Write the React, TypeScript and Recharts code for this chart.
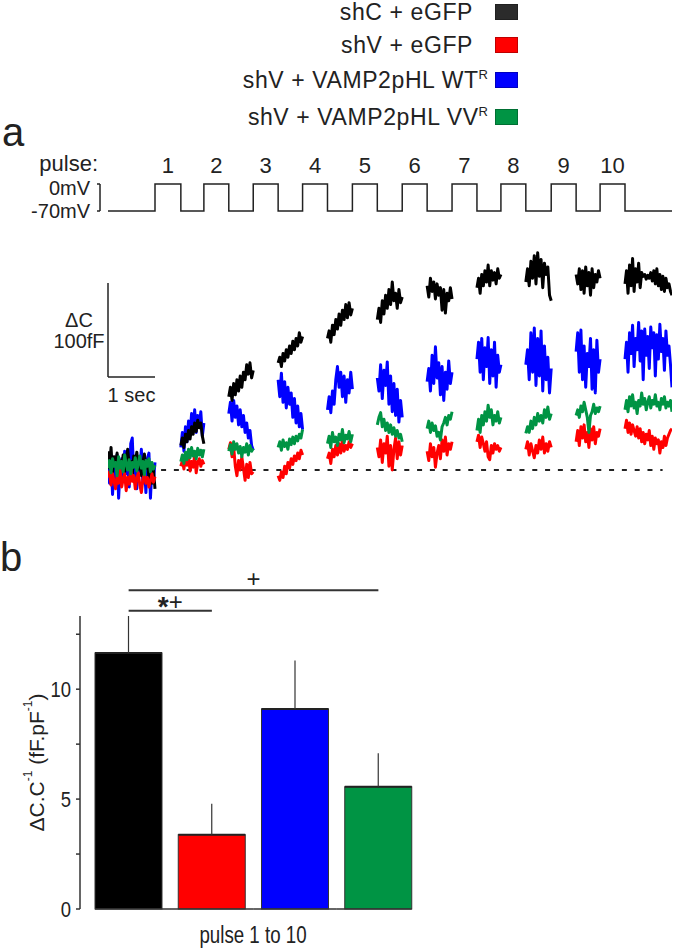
import React from 'react';
import {
  ComposedChart,
  Line,
  XAxis,
  YAxis,
  ReferenceLine,
  Label,
  BarChart,
  Bar,
  ErrorBar,
} from 'recharts';

const sans = '"Liberation Sans", Arial, Helvetica, sans-serif';
const ink = '#222';

// groups
const groupNames = ['shC + eGFP', 'shV + eGFP', 'shV + VAMP2pHL WT', 'shV + VAMP2pHL VV'];
const groupSup = ['', '', 'R', 'R'];
const groupKeys = ['shC', 'shV', 'WT', 'VV'];
const groupColors = ['#000000', '#ff0000', '#0000ff', '#009444'];
const swatchColors = ['#2b2b2b', '#ff0000', '#0000ff', '#009444'];

// voltage protocol, seconds
const pulseOn = [1.0, 2.04, 3.09, 4.14, 5.2, 6.26, 7.32, 8.36, 9.43, 10.47];
const pulseOff = [1.55, 2.57, 3.62, 4.67, 5.73, 6.79, 7.85, 8.89, 9.96, 11.0];
const sweepEnd = 12;
const holdMv = -70;
const stepMv = 0;

// capacitance traces (fF), one array per window between pulses
const traceShC = [
  [20, 2, 24, -3, 14, 6, 18, -4, 10, 3, 16, -2, 12, 22, 4, 9, -5, 15, 7, 19, 1, 12, -6, 8, 17, 2, 10, -8, 4, -14, 0, -20],
  [26, 34, 24, 38, 30, 42, 33, 46, 38, 50, 41, 53, 45, 50, 36, 28],
  [78, 88, 74, 92, 80, 96, 84, 100, 88, 104, 96, 112, 102, 114, 98, 106],
  [114, 120, 110, 124, 116, 128, 120, 132, 124, 137, 128, 140, 132, 146, 136, 142],
  [140, 148, 136, 154, 144, 160, 150, 166, 154, 170, 160, 176, 162, 178, 165, 172],
  [160, 172, 157, 180, 166, 186, 172, 192, 176, 200, 180, 188, 172, 192, 178, 184],
  [196, 184, 204, 190, 200, 182, 198, 186, 194, 170, 192, 167, 188, 180, 194, 182],
  [194, 204, 188, 208, 196, 212, 200, 218, 196, 212, 202, 210, 198, 214, 204, 208],
  [200, 214, 196, 222, 204, 228, 198, 231, 206, 224, 194, 220, 208, 216, 186, 180],
  [208, 198, 214, 192, 212, 188, 216, 196, 210, 186, 214, 194, 208, 200, 212, 204],
  [198, 212, 188, 218, 196, 225, 190, 214, 200, 220, 194, 210, 206, 208, 203, 207, 204, 210, 201, 212, 198, 214, 196, 208, 192, 206, 190, 204, 194, 198, 190, 186],
];
const traceShV = [
  [-8, -2, -16, -4, -12, -20, -6, -14, 0, -18, -10, -4, -22, -8, -15, 2, -12, -6, -20, -9, -3, -16, -24, -10, -5, -14, -8, -18, -11, -4, -13, -7],
  [4, 10, 1, 13, 5, 14, -1, 9, 3, 16, -3, 8, 12, 4, 10, 6],
  [22, 29, 14, 24, 4, -6, 10, 0, 14, 2, -11, 6, -8, 8, -4, -2],
  [-6, -11, -2, -8, 4, -4, 8, 2, 12, 6, 15, 10, 18, 12, 21, 16],
  [12, 18, 7, 22, 14, 26, 16, 28, 18, 32, 20, 26, 22, 30, 24, 28],
  [24, 14, 32, 8, 28, 18, 36, 4, 26, 0, 22, 34, 12, 30, 16, 26],
  [20, 10, 28, 14, 24, 3, 18, 26, 12, 32, 20, 35, 16, 28, 22, 30],
  [30, 37, 24, 35, 28, 20, 30, 14, 11, 26, 18, 28, 22, 26, 20, 24],
  [22, 30, 16, 28, 20, 13, 26, 18, 32, 22, 35, 18, 28, 20, 30, 24],
  [30, 42, 26, 46, 34, 48, 30, 40, 24, 44, 32, 46, 28, 40, 36, 44],
  [44, 53, 40, 50, 38, 48, 42, 36, 46, 34, 44, 30, 40, 28, 38, 32, 42, 26, 36, 22, 34, 28, 32, 18, 30, 24, 36, 26, 34, 38, 42, 44],
];
const traceWT = [
  [6, -14, 10, -26, 4, -8, 16, -30, 2, 12, -12, 20, -4, 8, -18, 28, 34, -6, 10, -20, 14, -2, 22, -14, 6, -24, 12, 18, -30, 4, -10, 8],
  [24, 40, 20, 46, 30, 52, 38, 60, 44, 64, 40, 58, 46, 62, 36, 50],
  [60, 72, 52, 74, 56, 68, 48, 64, 46, 58, 40, 50, 34, 42, 26, 21],
  [96, 78, 103, 72, 94, 66, 88, 70, 82, 56, 76, 50, 68, 46, 60, 43],
  [64, 78, 61, 84, 70, 96, 110, 88, 104, 78, 100, 72, 96, 82, 104, 86],
  [98, 84, 112, 76, 106, 90, 115, 70, 100, 62, 92, 58, 86, 51, 74, 56],
  [94, 108, 84, 122, 92, 131, 98, 114, 80, 110, 74, 104, 86, 116, 92, 104],
  [118, 136, 104, 140, 96, 130, 110, 141, 92, 128, 100, 136, 88, 122, 104, 112],
  [112, 128, 96, 146, 104, 151, 90, 140, 100, 148, 84, 132, 96, 120, 82, 108],
  [126, 146, 104, 149, 96, 132, 88, 124, 110, 140, 86, 128, 82, 138, 104, 118],
  [118, 136, 104, 146, 124, 154, 110, 140, 128, 157, 116, 148, 96, 150, 122, 142, 108, 152, 130, 146, 100, 144, 118, 155, 126, 140, 106, 148, 122, 132, 112, 88],
];
const traceVV = [
  [2, 10, -3, 12, 4, 8, -6, 14, 2, 9, -2, 16, 6, 0, 11, -4, 8, 3, 13, -1, 7, 15, 2, 9, -5, 10, 4, 12, -2, 8, 1, 5],
  [9, 16, 7, 19, 11, 22, 13, 24, 15, 20, 12, 23, 16, 21, 14, 22],
  [20, 27, 17, 30, 22, 28, 18, 25, 14, 24, 19, 28, 16, 26, 20, 23],
  [24, 30, 21, 32, 25, 29, 22, 33, 27, 35, 28, 36, 31, 38, 34, 43],
  [28, 36, 24, 40, 30, 35, 26, 38, 32, 43, 29, 37, 33, 41, 30, 38],
  [48, 56, 61, 46, 54, 42, 50, 40, 48, 38, 45, 36, 42, 34, 38, 30],
  [44, 52, 40, 50, 42, 47, 36, 40, 32, 46, 50, 56, 48, 58, 54, 62],
  [42, 54, 40, 58, 48, 62, 52, 69, 56, 64, 48, 58, 52, 62, 50, 56],
  [39, 46, 40, 52, 44, 56, 48, 60, 52, 58, 50, 64, 56, 67, 54, 60],
  [58, 64, 56, 68, 62, 72, 64, 56, 40, 58, 62, 70, 60, 66, 62, 68],
  [64, 74, 62, 78, 68, 80, 66, 72, 60, 74, 68, 82, 70, 76, 64, 72, 78, 66, 74, 70, 80, 68, 72, 64, 76, 70, 78, 66, 72, 68, 74, 62],
];

// panel b: mean and SEM, fF/pF
const barMeans = [11.65, 3.38, 9.1, 5.56];
const barSem = [1.68, 1.41, 2.2, 1.53];

// ---- tables built from the arrays above ----
const traceSets: any = { shC: traceShC, shV: traceShV, WT: traceWT, VV: traceVV };

const traceRows: any[] = [];
traceShC.forEach((_, k) => {
  const start = k === 0 ? 0 : pulseOff[k - 1];
  const end = k < pulseOn.length ? pulseOn[k] : sweepEnd;
  const n = traceShC[k].length;
  for (let i = 0; i < n; i++) {
    const row: any = { t: start + ((end - start) * i) / (n - 1) };
    groupKeys.forEach((key) => (row[key] = traceSets[key][k][i]));
    traceRows.push(row);
  }
  const gap: any = { t: end + 0.005 };
  groupKeys.forEach((key) => (gap[key] = null));
  traceRows.push(gap);
});

const pulseRows: any[] = [{ t: 0, mV: holdMv }];
pulseOn.forEach((on, i) => {
  pulseRows.push(
    { t: on, mV: holdMv },
    { t: on, mV: stepMv },
    { t: pulseOff[i], mV: stepMv },
    { t: pulseOff[i], mV: holdMv }
  );
});
pulseRows.push({ t: sweepEnd, mV: holdMv });

const pulseCenters = pulseOn.map((on, i) => (on + pulseOff[i]) / 2);

const barRows = groupNames.map((g, i) => ({
  group: g,
  mean: barMeans[i],
  err: [0, barSem[i]],
  color: groupColors[i],
}));

// ---- small renderers ----
const PulseWord = (props: any) => {
  const vb = props.viewBox;
  return (
    <text x={vb.x - 10} y={vb.y + vb.height - 5} textAnchor="end" fontSize={22} fontFamily={sans} fill={ink}>
      pulse:
    </text>
  );
};

const VoltTick = (props: any) => {
  const { x, y, payload } = props;
  return (
    <text x={x} y={y} dy={payload.value === stepMv ? 4 : 0} textAnchor="end" dominantBaseline="central"
      fontSize={20} fontFamily={sans} fill={ink}>
      {`${payload.value}mV`}
    </text>
  );
};

const ScaleC = (props: any) => {
  const vb = props.viewBox;
  const cy = vb.y + vb.height / 2;
  return (
    <text textAnchor="middle" fontSize={20} fontFamily={sans} fill={ink}>
      <tspan x={vb.x - 29} y={cy - 3}>ΔC</tspan>
      <tspan x={vb.x - 29} y={cy + 18}>100fF</tspan>
    </text>
  );
};

const PlusLabel = (props: any) => {
  const vb = props.viewBox;
  return (
    <text x={vb.x + vb.width / 2} y={vb.y - 3} textAnchor="middle" fontSize={24} fontFamily={sans} fill={ink}>
      +
    </text>
  );
};

const StarPlusLabel = (props: any) => {
  const vb = props.viewBox;
  return (
    <text x={vb.x + vb.width / 2} y={vb.y - 1} textAnchor="middle" fontSize={24} fontFamily={sans} fill={ink}>
      <tspan fontWeight="bold" fontSize={28} dy={6}>*</tspan>
      <tspan dy={-6}>+</tspan>
    </text>
  );
};

// condensed look of panel b lettering
const NarrowTick = (props: any) => {
  const { x, y, payload } = props;
  if (payload.value % 5 !== 0) return null;
  return (
    <text
      transform={`translate(${x} ${y}) scale(0.84 1)`}
      textAnchor="end"
      dominantBaseline="central"
      fontSize={22}
      fontFamily={sans}
      fill={ink}
    >
      {payload.value}
    </text>
  );
};

const BarYLabel = (props: any) => {
  const vb = props.viewBox;
  const cx = 36;
  const cy = vb.y + vb.height / 2;
  return (
    <text
      x={cx}
      y={cy}
      transform={`rotate(-90 ${cx} ${cy})`}
      textAnchor="middle"
      dominantBaseline="central"
      fontSize={21}
      fontFamily={sans}
      fill={ink}
    >
      ΔC.C<tspan dy={-8} fontSize={12}>-1</tspan>
      <tspan dy={8}>{'  (fF.pF'}</tspan>
      <tspan dy={-8} fontSize={12}>-1</tspan>
      <tspan dy={8}>)</tspan>
    </text>
  );
};

const BarXLabel = (props: any) => {
  const vb = props.viewBox;
  const cx = vb.x + vb.width / 2 + 3;
  return (
    <text
      transform={`translate(${cx} ${vb.y + 34}) scale(0.78 1)`}
      textAnchor="middle"
      fontSize={24}
      fontFamily={sans}
      fill={ink}
    >
      pulse 1 to 10
    </text>
  );
};

const BarShape = (props: any) => {
  const { x, y, width, height, index, payload } = props;
  const bottom = y + height;
  const half = 8.2;
  const left = index === 0 ? x : x - half;
  const right = index === barRows.length - 1 ? x + width : x + width + half;
  return (
    <g>
      <rect x={x} y={y} width={width} height={height} fill={payload.color} stroke="#333" strokeWidth={1} />
      <line x1={x} x2={x + width} y1={y} y2={y} stroke={ink} strokeWidth={2} />
      <line x1={left} x2={right} y1={bottom} y2={bottom} stroke="#333" strokeWidth={1.5} />
    </g>
  );
};

// blue first, then black, red, green on top
const drawOrder = [2, 0, 1, 3];

const TracesPanel = () => (
  <ComposedChart
    width={675}
    height={520}
    data={traceRows}
    margin={{ top: 146.25, right: 3, bottom: 12.4, left: 0 }}
  >
    <XAxis
      type="number"
      dataKey="t"
      orientation="top"
      domain={[0, sweepEnd]}
      allowDataOverflow
      ticks={pulseCenters}
      interval={0}
      tickFormatter={(v: number, i: number) => String(i + 1)}
      axisLine={false}
      tickLine={false}
      tickSize={0}
      tickMargin={3}
      height={30}
      tick={{ fontSize: 22, fill: ink, fontFamily: sans }}
    >
      <Label content={PulseWord} />
    </XAxis>
    <YAxis
      yAxisId="v"
      width={108}
      domain={[-839, 20.1]}
      allowDataOverflow
      ticks={[holdMv, stepMv]}
      interval={0}
      axisLine={false}
      tickLine={false}
      tickSize={0}
      tickMargin={18}
      tick={VoltTick}
    />
    <YAxis yAxisId="c" orientation="right" hide domain={[-40, 312.5]} allowDataOverflow />

    {/* bracket next to the voltage labels */}
    <ReferenceLine yAxisId="v" ifOverflow="visible" stroke={ink} strokeWidth={1.5}
      segment={[{ x: -0.17, y: holdMv }, { x: -0.17, y: stepMv }]} />
    <ReferenceLine yAxisId="v" ifOverflow="visible" stroke={ink} strokeWidth={1.5}
      segment={[{ x: -0.234, y: stepMv }, { x: -0.17, y: stepMv }]} />
    <ReferenceLine yAxisId="v" ifOverflow="visible" stroke={ink} strokeWidth={1.5}
      segment={[{ x: -0.234, y: holdMv }, { x: -0.17, y: holdMv }]} />

    {/* scale bars: 100 fF, 1 s */}
    <ReferenceLine yAxisId="c" ifOverflow="visible" stroke={ink} strokeWidth={1.5}
      segment={[{ x: 0, y: 99 }, { x: 0, y: 199 }]}>
      <Label content={ScaleC} />
    </ReferenceLine>
    <ReferenceLine yAxisId="c" ifOverflow="visible" stroke={ink} strokeWidth={1.5}
      segment={[{ x: 0, y: 99 }, { x: 1, y: 99 }]}>
      <Label value="1 sec" position="bottom" offset={11} fontSize={20} fontFamily={sans} fill={ink} />
    </ReferenceLine>

    {/* baseline */}
    <ReferenceLine yAxisId="c" ifOverflow="visible" stroke={ink} strokeWidth={2} strokeDasharray="5 7.8"
      segment={[{ x: 0.04, y: 0 }, { x: 11.8, y: 0 }]} />

    {drawOrder.map((i) => (
      <Line
        key={groupKeys[i]}
        yAxisId="c"
        type="linear"
        dataKey={groupKeys[i]}
        stroke={groupColors[i]}
        strokeWidth={3}
        strokeLinejoin="round"
        dot={false}
        activeDot={false}
        connectNulls={false}
        isAnimationActive={false}
      />
    ))}
    <Line
      data={pulseRows}
      yAxisId="v"
      type="linear"
      dataKey="mV"
      stroke={ink}
      strokeWidth={1.5}
      dot={false}
      activeDot={false}
      isAnimationActive={false}
    />
  </ComposedChart>
);

const BarsPanel = () => (
  <BarChart width={675} height={430} data={barRows} margin={{ top: 96, right: 255, bottom: 0, left: 0 }}>
    <XAxis dataKey="group" height={41} padding={{ left: 7, right: 0 }} axisLine={false} tickLine={false} tick={false}>
      <Label content={BarXLabel} />
    </XAxis>
    <YAxis
      width={80}
      domain={[0, 12.5]}
      ticks={[0, 2.5, 5, 7.5, 10, 12.5]}
      interval={0}
      axisLine={{ stroke: '#333', strokeWidth: 1.5 }}
      tickLine={{ stroke: '#333', strokeWidth: 1.5 }}
      tickSize={4}
      tickMargin={5}
      tick={NarrowTick}
    >
      <Label content={BarYLabel} />
    </YAxis>
    <ReferenceLine ifOverflow="visible" stroke="#333" strokeWidth={2}
      segment={[{ x: groupNames[0], y: 14.5 }, { x: groupNames[3], y: 14.5 }]}>
      <Label content={PlusLabel} />
    </ReferenceLine>
    <ReferenceLine ifOverflow="visible" stroke="#333" strokeWidth={2}
      segment={[{ x: groupNames[0], y: 13.57 }, { x: groupNames[1], y: 13.57 }]}>
      <Label content={StarPlusLabel} />
    </ReferenceLine>
    <Bar dataKey="mean" barSize={67} shape={BarShape} isAnimationActive={false}>
      <ErrorBar dataKey="err" width={0} stroke="#333" strokeWidth={1.2} direction="y" />
    </Bar>
  </BarChart>
);

const legendRowY = [12, 45, 80, 117];
const legendRight = [473, 473, 488, 488];

const LegendBlock = () => (
  <div style={{ position: 'absolute', top: 0, left: 0, width: 675, height: 140 }}>
    {groupNames.map((name, i) => {
      const cy = legendRowY[i];
      return (
        <div key={name}>
          <div
            style={{
              position: 'absolute',
              right: 675 - legendRight[i],
              top: cy - 12,
              height: 24,
              lineHeight: '24px',
              fontSize: 23,
              letterSpacing: 0.6,
              fontFamily: sans,
              color: ink,
              whiteSpace: 'nowrap',
            }}
          >
            {name}
            {groupSup[i] && (
              <span style={{ fontSize: 13, position: 'relative', top: -9, letterSpacing: 0 }}>{groupSup[i]}</span>
            )}
          </div>
          <div
            style={{
              position: 'absolute',
              left: 495,
              top: cy - 8,
              width: 23,
              height: 16,
              background: swatchColors[i],
              boxShadow: 'inset 0 0 0 1px rgba(0,0,0,0.25)',
            }}
          />
        </div>
      );
    })}
  </div>
);

export default function App() {
  return (
    <div style={{ position: 'absolute', left: 0, top: 0, width: 675, height: 950, background: '#fff', overflow: 'hidden' }}>
      <div style={{ position: 'absolute', left: 0, top: 0 }}>
        <TracesPanel />
      </div>
      <div style={{ position: 'absolute', left: 0, top: 520 }}>
        <BarsPanel />
      </div>
      <LegendBlock />
      <div style={{ position: 'absolute', left: 2, top: 111.8, fontSize: 40, lineHeight: '40px', fontFamily: sans, color: ink }}>a</div>
      <div style={{ position: 'absolute', left: 0, top: 536.8, fontSize: 40, lineHeight: '40px', fontFamily: sans, color: ink }}>b</div>
    </div>
  );
}
